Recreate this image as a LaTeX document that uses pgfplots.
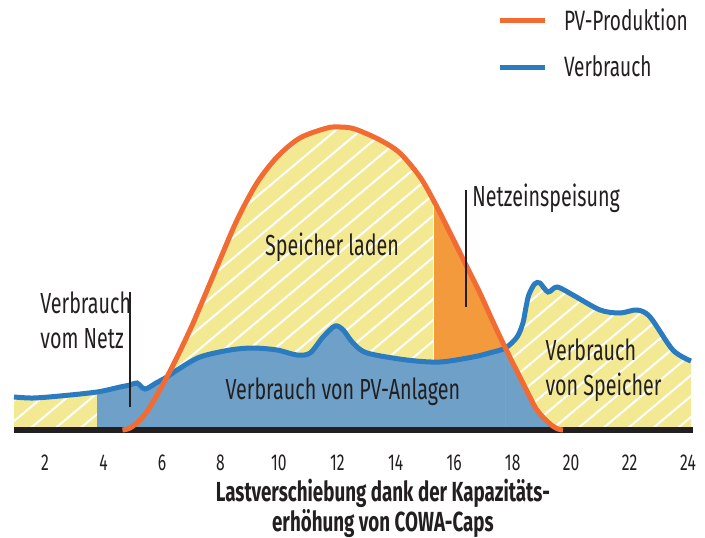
\documentclass[border=0pt]{standalone}
\usepackage{fontspec}
\setmainfont{Fira Sans}[FakeStretch=0.68]
\usepackage{pgfplots}
\pgfplotsset{compat=1.18}
\usepgfplotslibrary{fillbetween}
\usetikzlibrary{patterns.meta}

\definecolor{pvline}{HTML}{F26B33}
\definecolor{pvfill}{HTML}{F39A3C}
\definecolor{consline}{HTML}{2A7BC0}
\definecolor{consfill}{HTML}{6FA0C8}
\definecolor{yel}{HTML}{F4E993}
\definecolor{ink}{HTML}{231F20}

% PV-Produktion (x: hour, y: height)
\pgfplotstableread{
x y
4.65 0
4.91 2
5.25 10
5.59 23
6.17 53
6.52 73
6.96 100
7.20 116
7.88 163
8.57 210
9.25 247
9.94 273
10.72 292
11.65 302
12.10 303
12.60 301
13.46 290
14.14 277
14.83 253
15.34 227
15.86 197
16.37 167
16.88 137
17.33 108
17.75 82
18.35 47
18.83 20
19.28 6
19.55 1
19.72 0
}\pvdata

% Verbrauch
\pgfplotstableread{
x y
0.94 33
1.59 32
2.51 34
3.78 38
4.57 43
4.91 45
5.15 47
5.42 41
5.80 47
6.17 53
6.52 60
7.30 73
8.33 80
9.12 82
9.94 80
10.62 75
11.07 77
11.51 93
11.92 104
12.20 100
12.54 87
13.02 77
14.38 70
15.51 68
16.64 73
17.20 77
17.75 82
18.15 93
18.35 107
18.45 122
18.55 135
18.75 146
18.93 147
19.21 138
19.52 143
20.06 135
20.99 120
21.67 117
22.25 120
22.70 113
23.48 80
24.10 69
}\consdata

\begin{document}
\begin{tikzpicture}
\begin{axis}[
  scale only axis,
  width=339.5pt, height=215pt,
  xmin=0.94, xmax=24.17, ymin=0, ymax=430,
  clip=false,
  axis line style={draw=none},
  tick style={draw=none},
  xtick={2,4,...,24}, ytick=\empty,
  /pgf/number format/assume math mode=true,
  xticklabel style={anchor=center, yshift=-16.5pt, font=\fontsize{11.5}{13}\selectfont, text=ink},
  legend style={at={(axis cs:17.45,426)}, anchor=north west, draw=none, fill=none,
    font=\fontsize{14}{16}\selectfont, text=ink, row sep=7pt, inner sep=0pt,
    nodes={inner sep=2pt}},
  legend cell align=left,
  legend image code/.code={\draw[#1] (0pt,0pt) -- (22.5pt,0pt);},
  /tikz/every even column/.append style={column sep=0pt},
]
\addlegendimage{pvline, line width=2.5pt}
\addlegendentry{\hspace{6.5pt}PV-Produktion}
\addlegendimage{consline, line width=2.5pt}
\addlegendentry{\hspace{6.5pt}Verbrauch}

\addplot[name path=pv, draw=none, smooth, forget plot] table {\pvdata};
\addplot[name path=cons, draw=none, smooth, forget plot] table {\consdata};
\path[name path=base] (axis cs:0.94,0) -- (axis cs:24.17,0);

% yellow hatched areas (Speicher)
\addplot[yel, forget plot] fill between[of=cons and base, soft clip={domain=0.94:24.10}];
\addplot[yel, forget plot] fill between[of=pv and base];
\addplot[pattern={Lines[angle=40, distance=8pt, line width=1pt]}, pattern color=white, draw=none, forget plot]
  fill between[of=cons and base, soft clip={domain=0.94:24.10}];
\addplot[pattern={Lines[angle=40, distance=8pt, line width=1pt]}, pattern color=white, draw=none, forget plot]
  fill between[of=pv and base];
% Netzeinspeisung
\addplot[pvfill, forget plot] fill between[of=pv and base, soft clip={domain=15.30:19.72}];
% Verbrauch von PV-Anlagen / vom Netz
\addplot[consfill, forget plot] fill between[of=cons and base, soft clip={domain=3.78:17.75}];
\addplot[consfill, forget plot] fill between[of=pv and base, soft clip={domain=17.75:19.72}];
\addplot[white, line width=0.6pt, forget plot] coordinates {(15.30,69) (15.30,228)};

% base line
\addplot[ink, line width=2.6pt, forget plot] coordinates {(0.94,0) (24.17,0)};
% curves
\addplot[consline, line width=2.5pt, smooth, forget plot] table {\consdata};
\addplot[pvline, line width=2.5pt, smooth, forget plot] table {\pvdata};

% annotation lines
\addplot[ink, line width=0.8pt, forget plot] coordinates {(4.91,23) (4.91,138)};
\addplot[ink, line width=0.8pt, forget plot] coordinates {(16.40,123) (16.40,240)};

% labels
\begin{scope}[font=\fontsize{14.5}{17.5}\selectfont, text=ink]
\node[anchor=west, align=left, inner sep=0pt] at (axis cs:1.83,110) {Verbrauch\\vom Netz};
\node[anchor=west, inner sep=0pt] at (axis cs:16.61,232) {Netzeinspeisung};
\node[inner sep=0pt] at (axis cs:11.82,183) {Speicher laden};
\node[inner sep=0pt] at (axis cs:12.19,38) {Verbrauch von PV-Anlagen};
\node[anchor=west, align=left, inner sep=0pt] at (axis cs:19.11,60) {Verbrauch\\von Speicher};
\end{scope}
\node[align=center, inner sep=0pt, text=ink, font=\bfseries\fontsize{13.8}{13}\selectfont]
  at (axis cs:13.56,-78) {Lastverschiebung dank der Kapazitäts-\\erhöhung von COWA-Caps};

% page size
\path (axis cs:0.4605,-103) rectangle (axis cs:24.58,430);
\end{axis}
\end{tikzpicture}
\end{document}
